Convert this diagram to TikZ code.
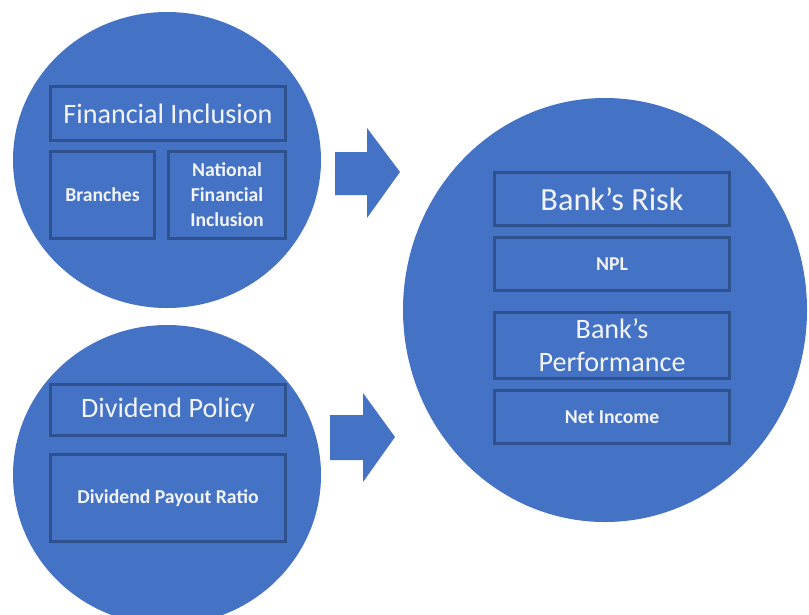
\documentclass[tikz,border=0pt]{standalone}
\usepackage{fontspec}
\setmainfont{Carlito}
\usetikzlibrary{shapes.geometric}
\definecolor{disc-blue}{HTML}{4472C4}
\definecolor{edge-blue}{HTML}{2F528F}
\definecolor{soft-white}{HTML}{F2F4FA}

\begin{document}
\begin{tikzpicture}[
    disc/.style={ellipse, fill=disc-blue, inner sep=0pt},
    cell/.style={draw=edge-blue, line width=0.85pt, text=soft-white,
      align=center, inner sep=0pt},
    big/.style={cell, font=\fontsize{8}{9.4}\selectfont},
    small/.style={cell, font=\bfseries\fontsize{5.6}{7.1}\selectfont}]
  \clip (0,0) rectangle (8.09,6.14);

  % the three discs
  \node[disc, minimum width=3.08cm, minimum height=2.96cm] (fin) at (1.67, 4.54) {};
  \node[disc, minimum width=3.08cm, minimum height=3.00cm] (div) at (1.67, 1.39) {};
  \node[disc, minimum width=4.04cm, minimum height=4.24cm] (bank) at (6.05, 3.04) {};

  % financial inclusion
  \node[big, minimum width=2.35cm, minimum height=0.54cm] (finhead) at (1.68, 5.005) {Financial Inclusion};
  \node[small, minimum width=1.04cm, minimum height=0.87cm] (branch) at (1.025, 4.19) {Branches};
  \node[small, minimum width=1.17cm, minimum height=0.87cm] (natl) at (2.27, 4.19) {National\\Financial\\Inclusion};

  % dividend policy
  \node[big, minimum width=2.35cm, minimum height=0.51cm] (divhead) at (1.68, 2.04) {Dividend Policy};
  \node[small, minimum width=2.35cm, minimum height=0.87cm] (payout) at (1.68, 1.16) {Dividend Payout Ratio};

  % risk and performance
  \node[big, font=\fontsize{9.2}{11}\selectfont, minimum width=2.35cm, minimum height=0.53cm] (risk) at (6.12, 4.15) {Bank’s Risk};
  \node[small, minimum width=2.35cm, minimum height=0.53cm] (npl) at (6.12, 3.50) {NPL};
  \node[big, minimum width=2.35cm, minimum height=0.66cm] (perf) at (6.12, 2.685) {Bank’s\\Performance};
  \node[small, minimum width=2.35cm, minimum height=0.53cm] (netinc) at (6.12, 1.97) {Net Income};

  % block arrows into the big disc
  \fill[disc-blue] (3.35, 4.62) -- (3.67, 4.62) -- (3.67, 4.86) -- (4.00, 4.42)
    -- (3.67, 3.96) -- (3.67, 4.19) -- (3.35, 4.19) -- cycle;
  \fill[disc-blue] (3.30, 1.99) -- (3.63, 1.99) -- (3.63, 2.21) -- (3.95, 1.77)
    -- (3.63, 1.32) -- (3.63, 1.54) -- (3.30, 1.54) -- cycle;
\end{tikzpicture}
\end{document}
